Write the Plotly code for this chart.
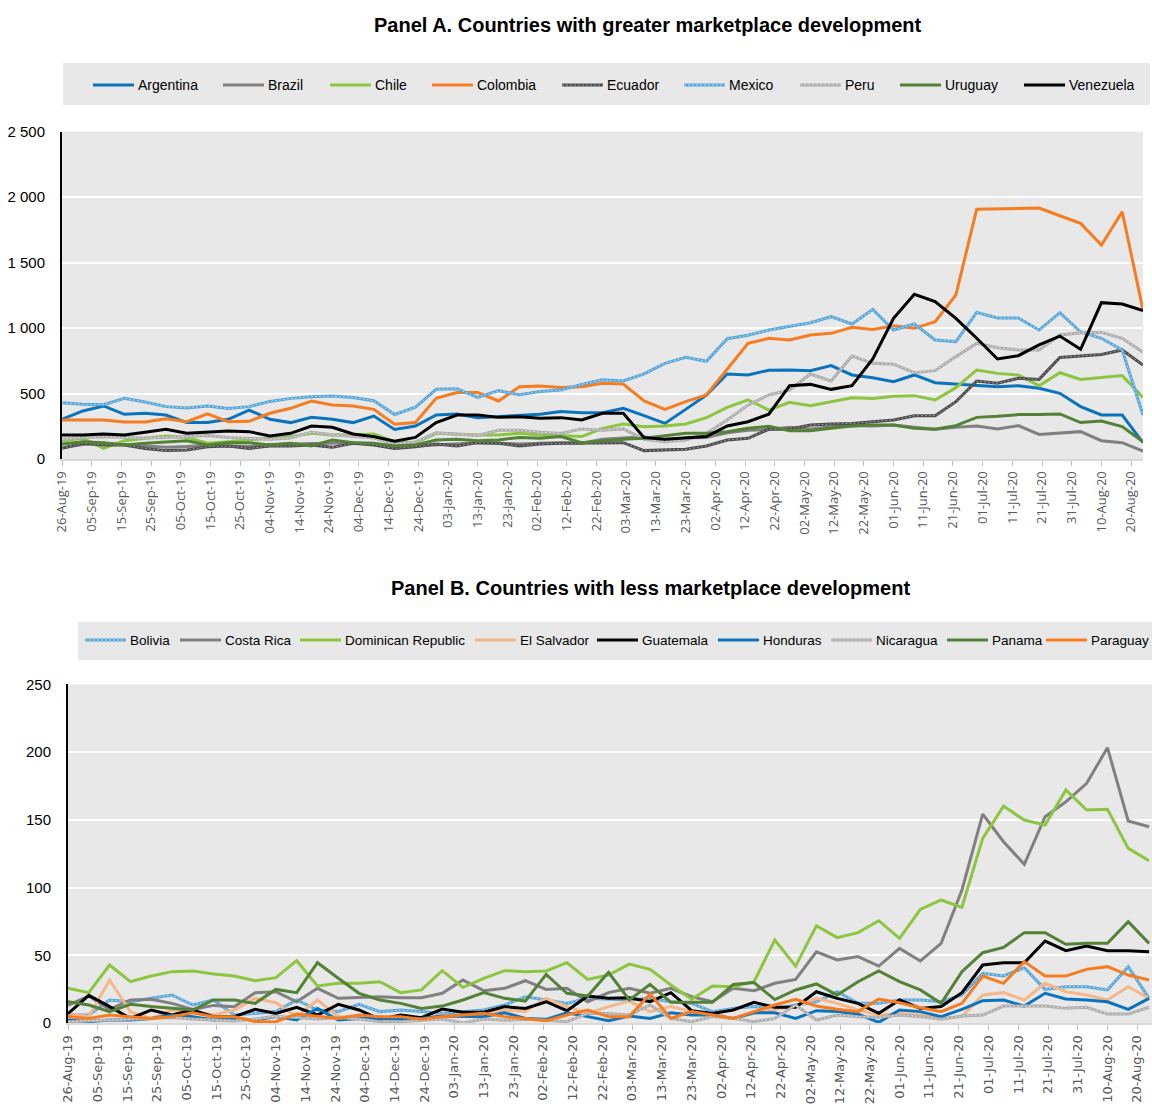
import pandas as pd
import plotly.graph_objects as go

# Weekly observations, 26 Aug 2019 - 24 Aug 2020
dates = pd.date_range("2019-08-26", periods=53, freq="7D")

# Panel A: countries with greater marketplace development
panel_a_names = ["Argentina", "Brazil", "Chile", "Colombia", "Ecuador",
                 "Mexico", "Peru", "Uruguay", "Venezuela"]
argentina = [303, 367, 405, 341, 349, 336, 278, 278, 303, 374, 303, 278, 318, 303, 278, 328, 225,
             252, 336, 344, 316, 323, 331, 341, 362, 354, 354, 387, 331, 272, 379, 489, 649, 642,
             678, 680, 675, 713, 642, 621, 591, 642, 583, 573, 560, 552, 560, 540, 502, 400, 336,
             336, 125]
brazil = [85, 110, 120, 110, 100, 90, 95, 105, 100, 95, 110, 115, 120, 120, 125, 115, 95,
          100, 110, 120, 125, 120, 115, 120, 125, 120, 150, 160, 170, 140, 160, 165, 200, 220,
          225, 242, 229, 247, 255, 252, 260, 242, 227, 242, 252, 229, 255, 188, 196, 209, 140,
          125, 61]
chile = [140, 158, 81, 140, 158, 176, 165, 120, 132, 145, 158, 171, 196, 183, 183, 191, 132,
         125, 196, 188, 183, 183, 196, 183, 176, 171, 234, 267, 247, 252, 267, 316, 395, 451,
         374, 433, 407, 438, 468, 463, 479, 484, 451, 545, 680, 654, 642, 560, 659, 608, 621,
         637, 471]
colombia = [298, 298, 298, 283, 283, 308, 285, 344, 285, 288, 349, 387, 443, 412, 405, 379, 265,
            278, 463, 507, 507, 443, 552, 558, 547, 552, 578, 573, 443, 379, 438, 489, 685, 883,
            922, 909, 947, 960, 1006, 990, 1018, 998, 1049, 1253, 1907, 1909, 1912, 1917, 1858,
            1800, 1635, 1889, 1138]
ecuador = [81, 120, 107, 107, 81, 64, 69, 94, 99, 81, 99, 99, 107, 89, 120, 107, 81,
           94, 115, 99, 125, 120, 99, 115, 120, 120, 125, 125, 64, 69, 74, 99, 145, 158,
           227, 227, 260, 267, 272, 285, 298, 331, 331, 438, 596, 578, 616, 608, 776, 787, 799,
           833, 718]
mexico = [430, 418, 415, 463, 435, 400, 390, 405, 385, 400, 440, 463, 476, 481, 470, 445, 340,
          395, 532, 537, 471, 522, 490, 515, 527, 570, 605, 596, 650, 731, 777, 746, 919, 945,
          985, 1011, 1041, 1087, 1031, 1143, 985, 1031, 909, 896, 1120, 1077, 1077, 985, 1118,
          970, 922, 833, 336]
peru = [150, 165, 170, 165, 160, 165, 175, 180, 165, 155, 150, 160, 205, 185, 175, 160, 115,
        130, 200, 190, 180, 220, 220, 205, 195, 230, 220, 230, 150, 132, 145, 196, 298, 412,
        489, 527, 649, 596, 787, 731, 724, 659, 675, 782, 883, 850, 833, 833, 947, 965, 967,
        922, 815]
uruguay = [115, 132, 125, 107, 120, 132, 140, 107, 125, 125, 107, 120, 99, 145, 125, 120, 99,
           107, 145, 150, 140, 145, 165, 158, 171, 125, 140, 150, 158, 176, 196, 196, 209, 234,
           250, 216, 216, 234, 252, 260, 260, 234, 227, 255, 318, 326, 339, 339, 344, 278, 290,
           247, 132]
venezuela = [183, 183, 191, 183, 204, 227, 196, 204, 214, 209, 176, 196, 252, 242, 191, 171, 136,
             165, 278, 336, 336, 318, 323, 311, 316, 298, 349, 349, 163, 150, 163, 171, 252, 285,
             342, 560, 570, 532, 560, 764, 1074, 1258, 1202, 1074, 922, 764, 789, 871, 939, 838,
             1194, 1184, 1133]

# Panel B: countries with less marketplace development
panel_b_names = ["Bolivia", "Costa Rica", "Dominican Republic", "El Salvador", "Guatemala",
                 "Honduras", "Nicaragua", "Panama", "Paraguay"]
bolivia = [5.9, 5.9, 17, 15.7, 18.2, 20.7, 13.3, 17, 5.9, 7.1, 8.4, 17, 9.6, 8.4, 13.8, 8.4, 9.6,
           8.4, 7.1, 8.4, 9.6, 13.3, 19.4, 17, 14.5, 18.2, 17.5, 17, 18.2, 15.7, 14.5, 8.4, 10.8,
           12.1, 10.8, 13.3, 15.7, 23.1, 14.5, 14.5, 17, 17, 15.7, 20.7, 36.7, 34.7, 40.8, 24.8,
           26.8, 26.8, 24.4, 41.6, 18.2]
costa_rica = [13, 20, 10, 17, 17.5, 14.5, 10, 13, 12, 22.4, 23.1, 15.7, 25.6, 18.2, 18.9, 19.4,
              18.7, 18.7, 21.9, 31.7, 23.9, 25.6, 31.2, 24.8, 25.6, 15.7, 22.4, 25.6, 21.9, 25.6,
              19.4, 15.7, 25.6, 23.9, 29.3, 32.2, 52.6, 46.5, 49, 42, 55.1, 45.8, 58.8, 98.2, 154.2,
              133.8, 117.1, 152.3, 163.3, 176.9, 203.2, 149.1, 144.9]
dominican_republic = [25.6, 22.4, 42.8, 30.5, 34.7, 37.9, 38.4, 36.2, 34.7, 31.2, 33.5, 46, 27.3,
                      29.3, 29.3, 30.5, 22.4, 24.4, 38.6, 26.3, 33, 38.6, 37.9, 38.4, 44.5, 32.2,
                      35.4, 43.5, 39.6, 28, 17.5, 27.3, 26.8, 30.5, 61.3, 42, 71.8, 63, 66.7, 75.5,
                      62.5, 83.9, 90.8, 85.4, 136.3, 160.1, 149.8, 146.1, 172, 157.2, 157.7, 128.9,
                      119.8]
el_salvador = [7.1, 4.7, 31.7, 8.4, 3.4, 9.6, 8.4, 5.9, 9.6, 18.2, 15, 4.7, 17, 4.7, 4.7, 4.7, 3.4,
               2.7, 5.9, 4.7, 7.1, 9.6, 8.4, 18.2, 12.1, 7.1, 12.1, 16.2, 8.4, 12.1, 8.4, 7.1, 3.4,
               7.1, 10.1, 12.1, 18.2, 14.5, 9.6, 5.9, 7.1, 5.9, 3.4, 4.7, 20.7, 22.4, 17, 29.3,
               23.1, 20.7, 17, 26.8, 18.2]
guatemala = [6.9, 20.4, 12.1, 3.4, 9.6, 5.9, 9.6, 4.7, 4.7, 10.1, 7.1, 11.6, 5.9, 13.8, 9.6, 2.7,
             5.9, 3.9, 10.3, 7.9, 7.9, 12.1, 10.8, 15.7, 9.1, 19.9, 18.2, 18.7, 15.7, 22.4, 9.1,
             7.1, 9.6, 15.3, 11.6, 11.6, 23.1, 18.2, 14.5, 7.1, 17, 10.8, 12.1, 22.4, 42.8, 44.5,
             44.5, 60.5, 53.4, 56.8, 53.4, 53.4, 52.6]
honduras = [2.2, 1, 2.2, 2.2, 3.4, 5.9, 4.7, 2.2, 3.4, 2.2, 4.7, 2.2, 10.8, 2.2, 3.4, 3.4, 2.7,
            3.4, 5.2, 5.2, 4.7, 7.6, 3.4, 2.7, 7.6, 4.7, 1.7, 5.2, 3.4, 7.6, 5.9, 5.9, 3.4, 7.6,
            7.6, 3.4, 9.1, 8.4, 6.6, 0.5, 9.6, 8.4, 4.7, 10.1, 16.5, 17, 12.5, 21.9, 17.7, 17,
            15.7, 10.1, 18.2]
nicaragua = [1, 1.5, 2, 2.5, 3, 4, 3, 2, 1.5, 3, 5, 4, 3, 4, 3, 1, 1, 2, 3, 0, 3, 2, 2.7, 2, 1,
             7.1, 7.1, 5.9, 13.3, 3.4, 1, 4.7, 3.4, 1, 3.4, 13.3, 2.2, 5.9, 4.7, 4.2, 5.9, 4.7,
             2.7, 5.2, 5.9, 12.5, 12.5, 12.5, 10.8, 11.6, 6.6, 6.6, 11.6]
panama = [15.7, 13.3, 8.4, 13.8, 12.1, 10.8, 9.6, 17, 17, 14.5, 24.8, 22.4, 44.5, 33, 21.9, 17,
          14.5, 10.8, 12.5, 17, 22.4, 18.2, 16.2, 35.9, 21.9, 19.9, 37.4, 17, 28.5, 15.3, 15.3,
          15.3, 28.5, 29.8, 17.3, 24.4, 28.8, 20.7, 30.5, 38.4, 30.5, 24.4, 14.5, 37.9, 51.9,
          55.8, 66.7, 66.7, 58.1, 58.8, 58.8, 74.8, 58.8]
paraguay = [4.7, 3.4, 5.9, 4.7, 3.4, 4.7, 7.6, 4.7, 4.7, 1, 1, 6.6, 5.2, 3.4, 5.9, 4.7, 4.7,
            2.7, 4.7, 5.9, 7.1, 4.7, 3.4, 1.7, 5.9, 9.6, 4.7, 4.7, 21.4, 3.4, 8.4, 5.9, 3.4, 8.4,
            13.3, 17.5, 12.5, 10.1, 8.4, 17.7, 15, 11.3, 8.4, 14.5, 34.7, 29.3, 45.3, 34.7, 34.7,
            39.6, 41.6, 35.4, 31.7]

panel_a_values = [argentina, brazil, chile, colombia, ecuador, mexico, peru, uruguay, venezuela]
panel_b_values = [bolivia, costa_rica, dominican_republic, el_salvador, guatemala, honduras,
                  nicaragua, panama, paraguay]
for series in panel_a_values + panel_b_values:
    assert len(series) == len(dates), len(series)

panel_a_colors = ["#0A73BD", "#808080", "#8CC63F", "#F57C20", "#4A4A4A",
                  "#56A6DA", "#ACACAC", "#538135", "#000000"]
panel_b_colors = ["#56A6DA", "#808080", "#8CC63F", "#F5B78A", "#000000",
                  "#0A73BD", "#ACACAC", "#538135", "#F57C20"]
# Hatched series get a fine lighter stripe running along the line
texture = {"Ecuador": "#9C9C9C", "Mexico": "#B4DAF2", "Peru": "#DADADA",
           "Bolivia": "#B4DAF2", "Nicaragua": "#DADADA"}

# Legend key positions (left edge of the key line, in pixels) and row centres
panel_a_key_x = [93, 223, 330, 432, 562, 684, 800, 900, 1024]
panel_b_key_x = [85, 180, 300, 475, 597, 718, 831, 947, 1046]
panel_a_key_y = 85
panel_b_key_y = 640
legend_font_size = {"A": 14, "B": 13.5}

W, H = 1152, 1106
SANS = "Liberation Sans, Arial, sans-serif"
TICKFONT_A = "Open Sans, Calibri, sans-serif"
TICKFONT_B = "DejaVu Sans, sans-serif"


def px(x):
    return x / W


def py(y):
    return 1 - y / H


fig = go.Figure()


def add_series(names, values, colors, xa, ya):
    for name, vals, col in zip(names, values, colors):
        fig.add_trace(go.Scatter(x=dates, y=vals, name=name, mode="lines",
                                 line=dict(color=col, width=3),
                                 xaxis=xa, yaxis=ya, hoverinfo="skip", showlegend=False))
        if name in texture:
            fig.add_trace(go.Scatter(x=dates, y=vals, name=name, mode="lines",
                                     line=dict(color=texture[name], width=1, dash="2px,2px"),
                                     xaxis=xa, yaxis=ya, hoverinfo="skip", showlegend=False))


add_series(panel_a_names, panel_a_values, panel_a_colors, "x", "y")
add_series(panel_b_names, panel_b_values, panel_b_colors, "x2", "y2")

xaxis_common = dict(
    type="date", tick0="2019-08-26", dtick=10 * 24 * 3600 * 1000,
    tickformat="%d-%b-%y", tickangle=-90, ticks="outside", ticklen=5,
    tickcolor="#BFBFBF", showline=True, linecolor="#D9D9D9", linewidth=2,
    showgrid=False, zeroline=False, automargin=False,
)
yaxis_common = dict(
    showline=True, linecolor="#000000", linewidth=2, showgrid=True,
    gridcolor="#FFFFFF", gridwidth=2, zeroline=False, ticks="",
    tickformat=",", ticklabelstandoff=12, automargin=False,
    tickfont=dict(family=SANS, size=15, color="#000000"),
)

# Grey legend panels with key lines and labels
shapes = [
    dict(type="rect", xref="paper", yref="paper", x0=px(63), x1=px(1150),
         y0=py(105), y1=py(63), fillcolor="#E8E8E8", line=dict(width=0), layer="below"),
    dict(type="rect", xref="paper", yref="paper", x0=px(78), x1=1.0,
         y0=py(660), y1=py(622), fillcolor="#E8E8E8", line=dict(width=0), layer="below"),
]
annotations = [
    dict(text="<b>Panel A. Countries with greater marketplace development</b>",
         x=px(648), y=py(25), xref="paper", yref="paper", showarrow=False,
         xanchor="center", yanchor="middle",
         font=dict(family=SANS, size=20, color="#000000")),
    dict(text="<b>Panel B. Countries with less marketplace development</b>",
         x=px(650), y=py(588), xref="paper", yref="paper", showarrow=False,
         xanchor="center", yanchor="middle",
         font=dict(family=SANS, size=20, color="#000000")),
]
for panel, names, colors, keys, ky in [
        ("A", panel_a_names, panel_a_colors, panel_a_key_x, panel_a_key_y),
        ("B", panel_b_names, panel_b_colors, panel_b_key_x, panel_b_key_y)]:
    for name, col, kx in zip(names, colors, keys):
        shapes.append(dict(type="line", xref="paper", yref="paper",
                           x0=px(kx), x1=px(kx + 41), y0=py(ky), y1=py(ky),
                           line=dict(color=col, width=3)))
        if name in texture:
            shapes.append(dict(type="line", xref="paper", yref="paper",
                               x0=px(kx), x1=px(kx + 41), y0=py(ky), y1=py(ky),
                               line=dict(color=texture[name], width=1, dash="2px,2px")))
        annotations.append(dict(text=name, x=px(kx + 43), y=py(ky), xref="paper", yref="paper",
                                showarrow=False, xanchor="left", yanchor="middle",
                                font=dict(family=SANS, size=legend_font_size[panel],
                                          color="#000000")))

fig.update_layout(
    width=W, height=H,
    margin=dict(l=0, r=0, t=0, b=0, autoexpand=False),
    paper_bgcolor="#FFFFFF", plot_bgcolor="#E8E8E8",
    separators=". ",
    showlegend=False,
    xaxis=dict(xaxis_common, domain=[px(62), px(1143)], anchor="y",
               range=["2019-08-26", "2020-08-24"],
               tickfont=dict(family=TICKFONT_A, size=13, color="#595959")),
    yaxis=dict(yaxis_common, domain=[py(459), py(131.7)], anchor="x",
               range=[0, 2500], dtick=500),
    xaxis2=dict(xaxis_common, domain=[px(68), 1.0], anchor="y2",
                range=["2019-08-26", "2020-08-25"],
                tickfont=dict(family=TICKFONT_B, size=13, color="#595959")),
    yaxis2=dict(yaxis_common, domain=[py(1023), py(684.3)], anchor="x2",
                range=[0, 250], dtick=50),
    shapes=shapes,
    annotations=annotations,
)

fig.write_html("out.html")
